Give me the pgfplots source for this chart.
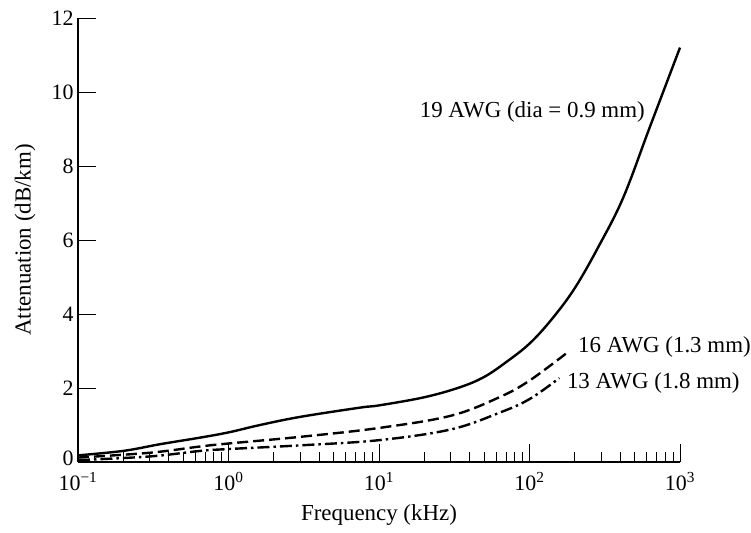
\documentclass[border=0pt]{standalone}
\usepackage{fontspec}
\setmainfont{Liberation Serif}
\usepackage{pgfplots}
\pgfplotsset{compat=1.18}
\begin{document}
\begin{tikzpicture}[font=\fontsize{23}{27}\selectfont]
\useasboundingbox (-78bp,-71bp) rectangle (673bp,462bp);
\begin{axis}[
  at={(0,0)}, anchor=south west,
  scale only axis, width=602bp, height=444bp,
  xmode=log, xmin=0.1, xmax=1000, ymin=0, ymax=12,
  axis lines*=left,
  axis line style={line width=1.6bp, black},
  tick align=inside,
  major tick length=18bp, minor tick length=10bp,
  every tick/.style={black, line width=0.9bp},
  xtick={0.1,1,10,100,1000},
  xticklabels={10\textsuperscript{−1},10\textsuperscript{0},10\textsuperscript{1},10\textsuperscript{2},10\textsuperscript{3}},
  ytick={0,2,4,6,8,10,12},
  yticklabels={\raisebox{8bp}{0},2,4,6,8,10,12},
  /pgf/number format/assume math mode=true,
  xticklabel style={font=\fontsize{22}{26}\selectfont, yshift=-7bp},
  yticklabel style={font=\fontsize{22}{26}\selectfont, xshift=-1bp},
  xlabel={Frequency (kHz)},
  ylabel={Attenuation (dB/km)},
  xlabel style={at={(axis description cs:0.5,-0.119)}, anchor=center},
  ylabel style={at={(axis description cs:-0.088,0.5)}, anchor=center},
  clip=false,
]
% 19 AWG (solid)
\addplot[black, line width=2.4bp, smooth, tension=0.6] coordinates {
(0.1,0.18) (0.2,0.3) (0.35,0.48) (0.65,0.66) (1,0.8) (1.62,1.0) (3,1.22)
(7.5,1.47) (10,1.53) (20,1.75) (34.5,2.02) (50,2.3) (70,2.7) (100,3.2) (140,3.85) (200,4.7)
(290,5.85) (420,7.15) (630,9.05) (1000,11.2)};
% 16 AWG (dashed)
\addplot[black, line width=2.4bp, smooth, tension=0.6, dash pattern=on 11bp off 5bp] coordinates {
(0.1,0.12) (0.3,0.25) (0.65,0.42) (1,0.5) (3,0.68) (10,0.92) (30,1.25)
(63,1.75) (100,2.2) (180,2.97)};
% 13 AWG (dash-dot)
\addplot[black, line width=2.4bp, smooth, tension=0.6, dash pattern=on 12bp off 4bp on 2.5bp off 4bp] coordinates {
(0.1,0.05) (0.3,0.15) (0.65,0.3) (1,0.35) (3,0.45) (10,0.59) (30,0.88)
(63,1.33) (100,1.7) (158,2.27)};
\node[anchor=east, inner sep=0pt] at (axis cs:585,9.46) {19 AWG (dia = 0.9 mm)};
\node[anchor=west, inner sep=0pt] at (axis cs:210,3.1) {16 AWG (1.3 mm)};
\node[anchor=west, inner sep=0pt] at (axis cs:177,2.14) {13 AWG (1.8 mm)};
\end{axis}
\end{tikzpicture}
\end{document}
